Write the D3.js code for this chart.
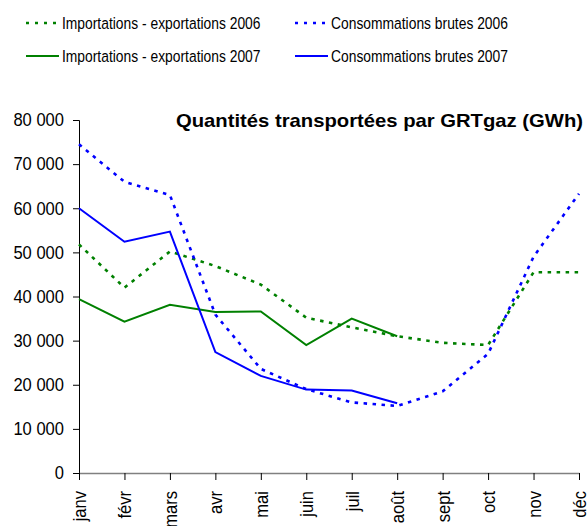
<!DOCTYPE html>
<html lang="fr">
<head>
<meta charset="UTF-8">
<title>Quantités transportées par GRTgaz</title>
<script src="https://d3js.org/d3.v7.min.js"></script>
<style>
    body { margin: 0; background: #fff; }
    svg { display: block; font-family: "Liberation Sans", Arial, sans-serif; }
</style>
</head>
<body>
<script>
    const months = ["janv", "févr", "mars", "avr", "mai", "juin", "juil", "août", "sept", "oct", "nov", "déc"];
    const yTicks = [0, 10000, 20000, 30000, 40000, 50000, 60000, 70000, 80000];

    const impExp2006 = [51800, 42000, 50200, 46900, 42700, 35200, 33000, 31000, 29500, 29000, 45500, 45500];
    const conso2006 = [74500, 66000, 63000, 35900, 23600, 19000, 16000, 15200, 18500, 27000, 49000, 63300];
    const impExp2007 = [39400, 34300, 38100, 36500, 36600, 29000, 35000, 31000];
    const conso2007 = [60000, 52400, 54700, 27400, 22000, 18900, 18700, 15800];

    const seriesList = [
        { name: "Importations - exportations 2006", values: impExp2006, color: "#008000", dash: "3.5,5.5" },
        { name: "Consommations brutes 2006", values: conso2006, color: "#0000ff", dash: "3.5,5.5" },
        { name: "Importations - exportations 2007", values: impExp2007, color: "#008000", dash: null },
        { name: "Consommations brutes 2007", values: conso2007, color: "#0000ff", dash: null }
    ];

    const width = 588, height = 526;
    const svg = d3.select("body").append("svg").attr("width", width).attr("height", height);

    const x = d3.scalePoint().domain(months).range([79, 579]);
    const y = d3.scaleLinear().domain([0, 80000]).range([473, 120]);
    const fmt = d => d3.format(",")(d).replace(/,/g, " ");

    // squeeze text horizontally, the original font is narrow
    function squish(sel, sx, extra) {
        sel.each(function () {
            const t = d3.select(this);
            const x0 = +t.attr("x") || 0;
            t.attr("x", x0 / sx).attr("transform", (extra || "") + ` scale(${sx},1)`);
        });
    }

    // y axis
    const gy = svg.append("g").attr("transform", "translate(79,0)")
        .call(d3.axisLeft(y).tickValues(yTicks).tickFormat(fmt).tickSize(6).tickPadding(9));
    gy.select(".domain").attr("stroke", "#000");
    gy.selectAll("text").attr("font-size", 18).attr("fill", "#000")
        .style("font-family", "'Liberation Sans', Arial, sans-serif");
    squish(gy.selectAll("text"), 0.92);

    // x axis
    const gx = svg.append("g").attr("transform", "translate(0,473)")
        .call(d3.axisBottom(x).tickSize(7).tickSizeOuter(0));
    gx.select(".domain").attr("stroke", "#808080").attr("stroke-width", 1.3);
    gx.selectAll(".tick line").attr("stroke", "#000");
    gx.selectAll("text")
        .attr("font-size", 18).attr("fill", "#000")
        .style("font-family", "'Liberation Sans', Arial, sans-serif")
        .attr("text-anchor", "end")
        .attr("x", -18).attr("y", 0).attr("dy", "0.36em");
    squish(gx.selectAll("text"), 0.92, "rotate(-90)");

    // lines
    const line = d3.line().x((d, i) => x(months[i])).y(d => y(d));
    svg.append("g").selectAll("path")
        .data(seriesList)
        .enter().append("path")
        .attr("d", d => line(d.values))
        .attr("fill", "none")
        .attr("stroke", d => d.color)
        .attr("stroke-width", d => d.dash ? 2.6 : 2)
        .attr("stroke-dasharray", d => d.dash);

    // title
    svg.append("text")
        .attr("x", 583).attr("y", 127)
        .attr("text-anchor", "end")
        .attr("font-size", 19).attr("font-weight", "bold")
        .attr("textLength", 407).attr("lengthAdjust", "spacingAndGlyphs")
        .text("Quantités transportées par GRTgaz (GWh)");

    // legend
    const legendPos = [[26, 23], [295, 23], [26, 56], [295, 56]];
    const leg = svg.append("g").selectAll("g")
        .data(seriesList)
        .enter().append("g")
        .attr("transform", (d, i) => `translate(${legendPos[i][0]},${legendPos[i][1]})`);
    leg.append("line")
        .attr("x1", 0).attr("x2", 33).attr("y1", 0).attr("y2", 0)
        .attr("stroke", d => d.color)
        .attr("stroke-width", d => d.dash ? 2.6 : 2)
        .attr("stroke-dasharray", d => d.dash ? "3,6" : null);
    leg.append("text")
        .attr("x", 36).attr("y", 0).attr("dy", "0.36em")
        .attr("font-size", 16.5).attr("fill", "#000")
        .text(d => d.name);
    squish(leg.selectAll("text"), 0.84);
</script>
</body>
</html>
